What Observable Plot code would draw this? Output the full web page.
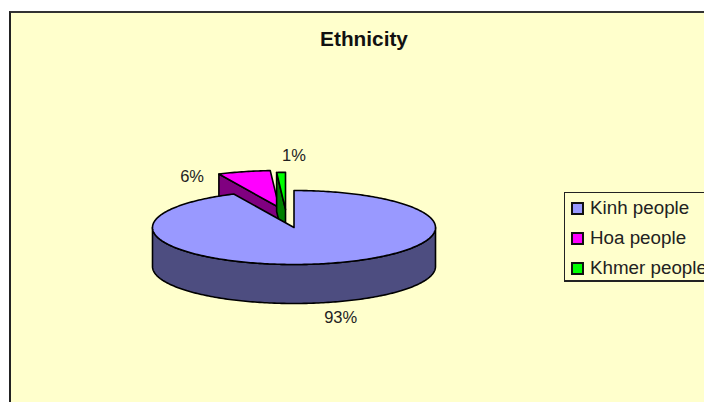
<!DOCTYPE html>
<html>
<head>
<meta charset="utf-8">
<script src="https://cdn.jsdelivr.net/npm/d3@7"></script>
<script src="https://cdn.jsdelivr.net/npm/@observablehq/plot@0.6"></script>
<style>
  html, body { margin: 0; padding: 0; width: 704px; height: 402px; overflow: hidden; background: #fff; }
  body { position: relative; font-family: "Liberation Sans", Arial, sans-serif; color: #000; }
  #panel { position: absolute; left: 9px; top: 11px; width: 720px; height: 420px; background: #FFFFCC;
           border-left: 2px solid #222; border-top: 2px solid #333; box-sizing: border-box; }
  #title { position: absolute; left: 0; width: 728px; top: 29px; text-align: center; font-weight: bold; font-size: 20.8px; line-height: 20px; color: #111; }
  #chart { position: absolute; left: 0; top: 0; }
  #legend { position: absolute; left: 564px; top: 192px; width: 170px; height: 90px; box-sizing: border-box;
            border: 1px solid #222; border-bottom-width: 2px; background: #FFFFCC; }
  .row { position: absolute; left: 6px; height: 30px; width: 160px; }
  .sw { position: absolute; left: 0; top: 9px; width: 13px; height: 13px; box-sizing: border-box; border: 2px solid #111; }
  .tx { position: absolute; left: 19px; top: 5px; font-size: 18.8px; line-height: 20px; white-space: nowrap; color: #222; }
</style>
</head>
<body>
<div id="panel"></div>
<div id="chart"></div>
<div id="title">Ethnicity</div>
<div id="legend"></div>
<script>
// Ethnic composition, in percent
const groups = ["Kinh people", "Hoa people", "Khmer people"];
const shares = [93, 6, 1];
const faceColors = ["#9999FF", "#FF00FF", "#00FF00"];
const wallColors = ["#4D4D80", "#800080", "#008000"];

// Tilted pie: x and y run in units of the ellipse radii
const depth = 39 / 37;
const explode = [[0, 0], [-0.105, 0.54], [-0.06, 0.49]];
const labelAt = [[0.33, -2.43], [-0.72, 1.38], [0.0, 1.95]];

const toRad = (d) => (d * Math.PI) / 180;
let start = 0;
const slices = shares.map((v, i) => {
  const a0 = start, a1 = start + (v / d3.sum(shares)) * 360;
  start = a1;
  return { i, a0, a1, dx: explode[i][0], dy: explode[i][1] };
});

const rim = (s, from, to, drop = 0) => {
  const n = Math.max(2, Math.ceil(Math.abs(to - from)));
  return d3.range(n + 1).map((k) => {
    const a = toRad(from + ((to - from) * k) / n);
    return { x: s.dx + Math.sin(a), y: s.dy + Math.cos(a) - drop };
  });
};
const hub = (s, drop = 0) => ({ x: s.dx, y: s.dy - drop });
const closed = (pts) => [...pts, pts[0]];

// Top face of a slice
const topFace = (s) => closed([hub(s), ...rim(s, s.a0, s.a1)]);
// Cut wall along the slice's leading radius
const cutWall = (s) => closed([...rim(s, s.a0, s.a0, 0).slice(0, 1), hub(s), hub(s, depth), ...rim(s, s.a0, s.a0, depth).slice(0, 1)]);
// Outer wall along the near half of the rim
const outerWall = (s) => closed([...rim(s, 90, 270), ...rim(s, 270, 90, depth)]);

const face = (pts, fill) => Plot.line(pts, {
  x: "x", y: "y", fill, stroke: "#000", strokeWidth: 1.6, strokeLinejoin: "round", curve: "linear"
});

const [kinh, hoa, khmer] = slices;
const marks = [
  face(cutWall(hoa), wallColors[1]),
  face(topFace(hoa), faceColors[1]),
  face(cutWall(khmer), wallColors[2]),
  face(topFace(khmer), faceColors[2]),
  face(outerWall(kinh), wallColors[0]),
  face(topFace(kinh), faceColors[0]),
  Plot.text(shares.map((v, i) => ({ label: `${v}%`, x: labelAt[i][0], y: labelAt[i][1] })), {
    x: "x", y: "y", text: "label", fontSize: 16.5, fontFamily: "Liberation Sans, Arial, sans-serif", fill: "#222"
  })
];

const cx = 293.5, cy = 227, rx = 141.5, ry = 37;
const plot = Plot.plot({
  width: 704,
  height: 402,
  margin: 0,
  x: { domain: [-1, 1], range: [cx - rx, cx + rx], axis: null },
  y: { domain: [-1, 1], range: [cy + ry, cy - ry], axis: null },
  style: { background: "transparent", overflow: "visible" },
  marks
});
document.getElementById("chart").appendChild(plot);

// Legend
const legend = document.getElementById("legend");
groups.forEach((g, i) => {
  const row = document.createElement("div");
  row.className = "row";
  row.style.top = `${i * 30}px`;
  const sw = document.createElement("div");
  sw.className = "sw";
  sw.style.background = faceColors[i];
  const tx = document.createElement("div");
  tx.className = "tx";
  tx.textContent = g;
  row.append(sw, tx);
  legend.appendChild(row);
});
</script>
</body>
</html>
